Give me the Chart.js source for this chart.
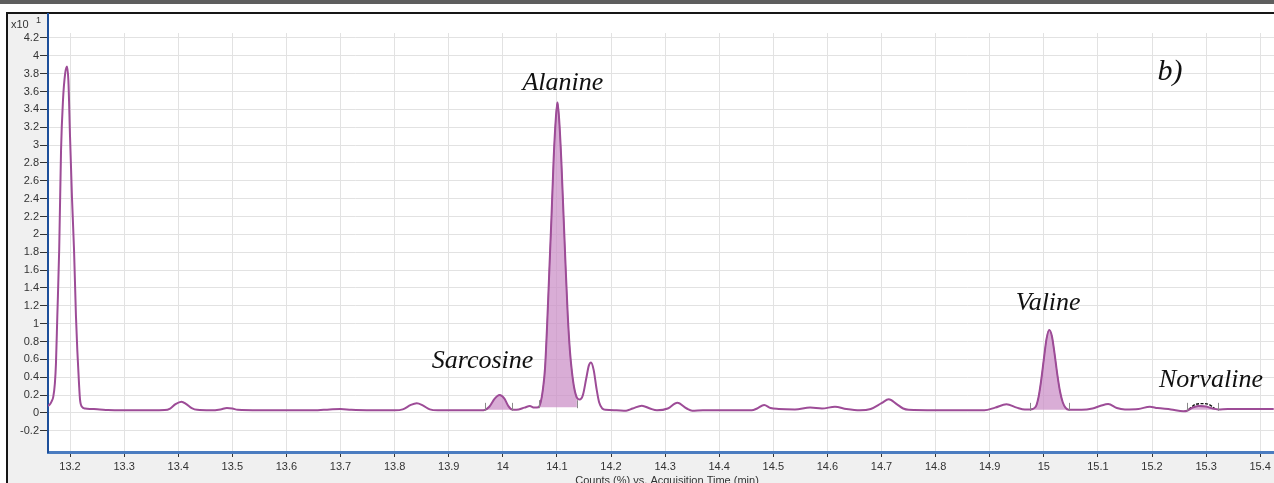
<!DOCTYPE html>
<html>
<head>
<meta charset="utf-8">
<script src="https://cdn.jsdelivr.net/npm/chart.js@4/dist/chart.umd.min.js"></script>
<style>
  html, body { margin: 0; padding: 0; background: #fff; }
  canvas { display: block; }
</style>
</head>
<body>
<canvas id="chrom" width="1274" height="483"></canvas>
<script>
// trace, [time (min), counts (x10^1 %)]
const solventPeak = [[13.159,0.08],[13.162,0.09],[13.166,0.13],[13.169,0.18],[13.172,0.33],[13.174,0.55],
  [13.1765,1.08],[13.18,1.83],[13.1834,2.94],[13.187,3.5],[13.191,3.8],[13.1945,3.88],[13.197,3.72],
  [13.2,3.1],[13.2037,2.4],[13.2074,1.83],[13.211,1.08],[13.2135,0.7],[13.2166,0.33],[13.2185,0.15],
  [13.222,0.07],[13.228,0.05]]
const baselineA = [[13.24,0.045],[13.255,0.04],[13.27,0.032],[13.3,0.03],[13.35,0.03],[13.375,0.033],
  [13.385,0.05],[13.395,0.1],[13.406,0.127],[13.415,0.1],[13.425,0.055],[13.435,0.035],[13.46,0.03],
  [13.478,0.04],[13.49,0.056],[13.5,0.05],[13.51,0.035],[13.55,0.03],[13.6,0.03],[13.65,0.03],
  [13.68,0.04],[13.7,0.045],[13.72,0.035],[13.76,0.03],[13.8,0.03],[13.815,0.04],[13.83,0.09],
  [13.841,0.108],[13.852,0.085],[13.865,0.04],[13.88,0.03],[13.92,0.03],[13.96,0.03]]
const sarcosineRegion = [[13.967,0.035],[13.975,0.07],[13.985,0.16],[13.994,0.2],[14.003,0.16],
  [14.01,0.08],[14.017,0.038],[14.025,0.035],[14.04,0.06],[14.05,0.078],[14.058,0.06]]
const alanineRegion = [[14.066,0.065],[14.07,0.12],[14.074,0.26],[14.078,0.5],[14.082,1.0],[14.086,1.6],
  [14.09,2.2],[14.094,2.85],[14.098,3.3],[14.101,3.48],[14.104,3.3],[14.108,2.85],[14.112,2.25],
  [14.116,1.65],[14.12,1.1],[14.124,0.7],[14.128,0.45],[14.132,0.28],[14.137,0.17],[14.142,0.15],
  [14.148,0.2],[14.154,0.38],[14.159,0.53],[14.163,0.565],[14.168,0.48],[14.173,0.28],[14.178,0.12],
  [14.184,0.05],[14.19,0.035]]
const baselineB = [[14.21,0.03],[14.228,0.026],[14.24,0.05],[14.257,0.082],[14.272,0.05],[14.285,0.03],
  [14.305,0.05],[14.3226,0.115],[14.34,0.05],[14.35,0.026],[14.37,0.03],[14.42,0.03],[14.46,0.03],
  [14.47,0.05],[14.483,0.09],[14.495,0.055],[14.51,0.045],[14.54,0.04],[14.568,0.06],[14.59,0.05],
  [14.614,0.07],[14.635,0.045],[14.66,0.03],[14.68,0.045],[14.7,0.11],[14.7135,0.153],[14.728,0.1],
  [14.74,0.05],[14.75,0.035],[14.8,0.03],[14.85,0.03],[14.89,0.03],[14.91,0.06],[14.931,0.097],
  [14.95,0.06],[14.965,0.04]]
const valineRegion = [[14.975,0.04],[14.985,0.07],[14.99,0.17],[14.995,0.36],[15.0,0.6],[15.005,0.83],
  [15.01,0.93],[15.015,0.86],[15.02,0.66],[15.025,0.43],[15.03,0.24],[15.035,0.12],[15.04,0.06],
  [15.046,0.035]]
const baselineC = [[15.07,0.035],[15.09,0.05],[15.105,0.08],[15.119,0.1],[15.135,0.055],[15.15,0.04],
  [15.175,0.045],[15.196,0.07],[15.21,0.055],[15.235,0.04],[15.258,0.02]]
const norvalineRegion = [[15.265,0.025],[15.275,0.06],[15.286,0.078],[15.3,0.072],[15.312,0.05],[15.322,0.04]]
const tail = [[15.34,0.045],[15.38,0.045],[15.425,0.045]]

// black dashed fit drawn over the norvaline peak
const norvalineFit = [[15.268,0.04],[15.28,0.095],[15.293,0.105],[15.305,0.095],[15.316,0.05]]

// integrated windows: start, end and baseline level of the shaded area
const integrated = [
  { name: 'Sarcosine', from: 13.967, to: 14.017, base: 0.035 },
  { name: 'Alanine', from: 14.066, to: 14.137, base: 0.065 },
  { name: 'Valine', from: 14.975, to: 15.046, base: 0.035 },
  { name: 'Norvaline', from: 15.265, to: 15.322, base: 0.035 },
]

const xTicks = [13.2, 13.3, 13.4, 13.5, 13.6, 13.7, 13.8, 13.9, 14, 14.1, 14.2, 14.3, 14.4, 14.5,
  14.6, 14.7, 14.8, 14.9, 15, 15.1, 15.2, 15.3, 15.4]
const yTicks = [-0.2, 0, 0.2, 0.4, 0.6, 0.8, 1, 1.2, 1.4, 1.6, 1.8, 2, 2.2, 2.4, 2.6, 2.8, 3, 3.2,
  3.4, 3.6, 3.8, 4, 4.2]

const trace = [...solventPeak, ...baselineA, ...sarcosineRegion, ...alanineRegion, ...baselineB,
  ...valineRegion, ...baselineC, ...norvalineRegion, ...tail].map(([x, y]) => ({ x, y }))

// text placed in data units
const notes = [
  { text: 'Sarcosine', t: 13.9625, c: 0.5 },
  { text: 'Alanine', t: 14.111, c: 3.617 },
  { text: 'Valine', t: 15.008, c: 1.153 },
  { text: 'Norvaline', t: 15.309, c: 0.288 },
  { text: 'b)', t: 15.2333, c: 3.73, size: 30 },
]

const LINE = '#9d4c97'
const SHADE = 'rgba(203,142,198,0.72)'

const frame = {
  id: 'frame',
  beforeDraw(chart) {
    const { ctx, chartArea: a, width, height } = chart
    ctx.save()
    ctx.fillStyle = '#fff'
    ctx.fillRect(0, 0, width, height)
    ctx.fillStyle = '#5e5e5e'
    ctx.fillRect(0, 0, width, 4)
    ctx.fillStyle = '#f0f0f0'
    ctx.fillRect(8, 14, width - 8, height - 14)
    ctx.fillStyle = '#fff'
    ctx.fillRect(a.left, a.top, a.right - a.left, a.bottom - a.top)
    ctx.fillStyle = '#161616'
    ctx.fillRect(6, 12, width - 6, 2)
    ctx.fillRect(6, 12, 2, height - 12)
    ctx.restore()
  },
  beforeDatasetsDraw(chart) {
    // vertical grid stops a little below the top edge
    const { ctx, chartArea: a } = chart
    ctx.save()
    ctx.fillStyle = '#fff'
    ctx.fillRect(a.left + 2, a.top, a.right - a.left - 2, 19)
    ctx.restore()
  },
  afterDraw(chart) {
    const { ctx, scales: { x, y } } = chart
    ctx.save()

    // integration markers
    ctx.strokeStyle = '#8a8a8a'
    ctx.lineWidth = 1
    integrated.forEach((p) => {
      const yb = y.getPixelForValue(p.base)
      ;[p.from, p.to].forEach((t) => {
        const xp = Math.round(x.getPixelForValue(t)) + 0.5
        ctx.beginPath()
        ctx.moveTo(xp, yb - 7)
        ctx.lineTo(xp, yb + 1)
        ctx.stroke()
      })
    })

    ctx.fillStyle = '#111'
    ctx.textAlign = 'center'
    ctx.textBaseline = 'alphabetic'
    notes.forEach((n) => {
      ctx.font = `italic ${n.size || 26}px "Liberation Serif", "Times New Roman", serif`
      ctx.fillText(n.text, x.getPixelForValue(n.t), y.getPixelForValue(n.c))
    })

    ctx.fillStyle = '#333'
    ctx.textAlign = 'left'
    ctx.font = '11px "Liberation Sans", Arial, sans-serif'
    ctx.fillText('x10', 11, 28)
    ctx.font = '9px "Liberation Sans", Arial, sans-serif'
    ctx.fillText('1', 36, 23)

    ctx.textAlign = 'center'
    ctx.font = '11px "Liberation Sans", Arial, sans-serif'
    ctx.fillText('Counts (%) vs. Acquisition Time (min)', 667, 484)
    ctx.restore()
  },
}

Chart.defaults.font.family = '"Liberation Sans", Arial, sans-serif'
Chart.defaults.font.size = 11
Chart.defaults.color = '#333'

const shadeSets = integrated.map((p) => ({
  data: trace.filter((pt) => pt.x >= p.from && pt.x <= p.to),
  borderColor: 'rgba(140,60,135,0.9)',
  borderWidth: 1,
  backgroundColor: SHADE,
  fill: { value: p.base },
  pointRadius: 0,
  cubicInterpolationMode: 'monotone',
}))

new Chart(document.getElementById('chrom'), {
  type: 'line',
  data: {
    datasets: [
      {
        data: trace,
        borderColor: LINE,
        borderWidth: 2,
        pointRadius: 0,
        fill: false,
        cubicInterpolationMode: 'monotone',
      },
      {
        data: norvalineFit.map(([x, y]) => ({ x, y })),
        borderColor: '#111',
        borderWidth: 1.4,
        borderDash: [3, 1.5],
        pointRadius: 0,
        fill: false,
        cubicInterpolationMode: 'monotone',
      },
      ...shadeSets,
    ],
  },
  options: {
    responsive: false,
    animation: false,
    events: [],
    layout: { padding: { left: 8, top: 14, right: 0, bottom: 0 } },
    plugins: { legend: { display: false }, tooltip: { enabled: false } },
    scales: {
      x: {
        type: 'linear',
        min: 13.1593,
        max: 15.4255,
        afterFit: (s) => { s.height = 31 },
        afterBuildTicks: (s) => { s.ticks = xTicks.map((v) => ({ value: v })) },
        ticks: { autoSkip: false, maxRotation: 0, padding: 3, color: '#333', callback: (v) => String(v) },
        grid: { color: '#e2e2e2', tickColor: '#333', tickLength: 5, tickWidth: 1 },
        border: { color: '#4a7cc0', width: 3 },
      },
      y: {
        type: 'linear',
        min: -0.437,
        max: 4.468,
        afterFit: (s) => { s.width = 40 },
        afterBuildTicks: (s) => { s.ticks = yTicks.map((v) => ({ value: v })) },
        ticks: { autoSkip: false, padding: 1, color: '#333', callback: (v) => String(v) },
        grid: { color: '#e2e2e2', tickColor: '#333', tickLength: 8, tickWidth: 1 },
        border: { color: '#1d4f9a', width: 2 },
      },
    },
  },
  plugins: [frame],
})
</script>
</body>
</html>
